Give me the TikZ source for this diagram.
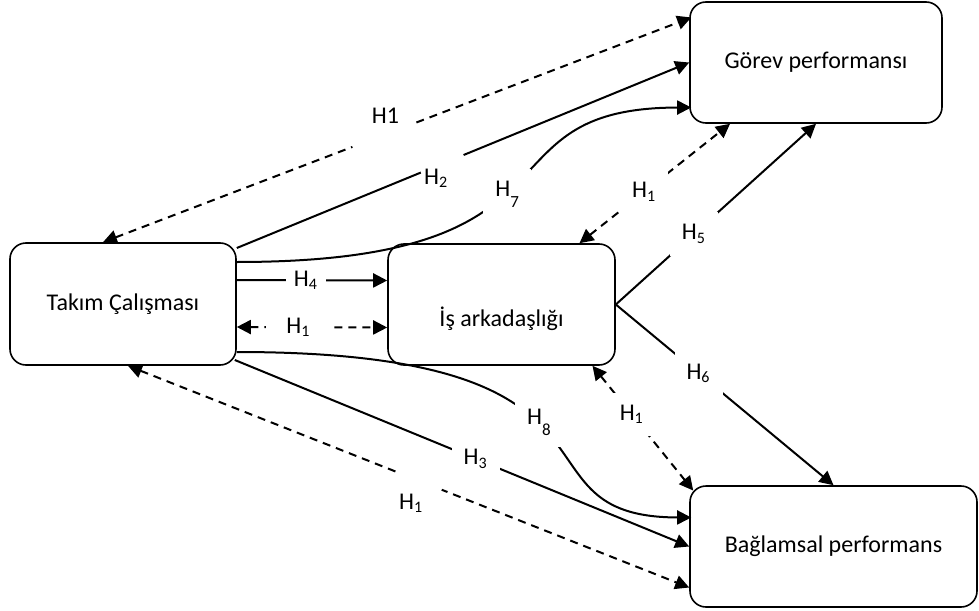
\documentclass[tikz,border=0pt]{standalone}
\usepackage{fontspec}
\setmainfont{Carlito}
\usepackage{tikz}
\usetikzlibrary{arrows.meta,calc}

\begin{document}
\begin{tikzpicture}[x=0.5pt, y=-0.5pt, font=\fontsize{12}{14}\selectfont,
  >={Triangle[length=7pt,width=7pt]}, line width=1pt,
  box/.style={draw, line width=0.8pt, rounded corners=8pt, inner sep=0pt},
  brk/.style={dash pattern=on 4pt off 3pt},
  hyp/.style={fill=white, inner sep=6pt},
  cut/.style={fill=white, inner sep=0pt, minimum height=4pt, sloped},
  tag/.style={inner sep=1pt}]
\useasboundingbox (0,0) rectangle (979,610);

% variables
\node[box, minimum width=113pt, minimum height=61pt] (takim) at (123,304) {Takım Çalışması};
\node[box, minimum width=113.5pt, minimum height=60.5pt,
      label={[yshift=-7pt]center:İş arkadaşlığı}] (is) at (501.5,304.5) {};
\node[box, minimum width=126pt, minimum height=60.5pt] (gorev) at (816,62.5) {Görev performansı};
\node[box, minimum width=143.5pt, minimum height=60.5pt] (baglam) at (833.5,546.5) {Bağlamsal performans};

% direct paths
\draw[->] ($(takim.east)+(0,-56)$) -- (gorev.west)
  node[cut, pos=.454, minimum width=23pt] {} node[tag, pos=.454, anchor=north, xshift=-3pt, yshift=-1pt] {H\textsubscript{2}};
\draw[->] ($(takim.east)+(-2,56)$) -- (baglam.west)
  node[hyp, pos=.53] {H\textsubscript{3}};
\draw[->] ($(takim.east)+(0,-24)$) -- ($(is.west)+(0,-24)$)
  node[hyp, inner xsep=4pt, pos=.46] {H\textsubscript{4}};
\draw[->] (is.east) -- (gorev.south)
  node[hyp, pos=.39] {H\textsubscript{5}};
\draw[->] (is.east) -- (baglam.north)
  node[hyp, pos=.38] {H\textsubscript{6}};

% mediated paths
\draw[->] ($(takim.east)+(0,-42)$) .. controls (600,262) and (470,108) .. ($(gorev.west)+(2,45)$)
  node[hyp, pos=.46] {H\raisebox{-0.9ex}{\fontsize{8.5}{8.5}\selectfont 7}};
\draw[->] ($(takim.east)+(0,48)$) .. controls (660,352) and (500,517) .. ($(baglam.west)+(2,-29)$)
  node[hyp, pos=.45] {H\raisebox{-0.9ex}{\fontsize{8.5}{8.5}\selectfont 8}};

% H1 links
\draw[brk,<->] ($(takim.north)+(-20,0)$) -- ($(gorev.west)+(2,-45)$)
  node[cut, pos=.475, minimum width=32pt] {} node[tag, pos=.475, anchor=south, xshift=1.5pt, yshift=4.5pt] {H1};
\draw[brk,<->] ($(takim.east)+(0,23)$) -- ($(is.west)+(0,23)$)
  node[hyp, inner xsep=10pt, pos=.41] {H\textsubscript{1}};
\draw[brk,<->] ($(is.north)+(78,0)$) -- ($(gorev.south)+(-86,0)$)
  node[hyp, pos=.43] {H\textsubscript{1}};
\draw[brk,<->] ($(is.south)+(91,0)$) -- ($(baglam.west)+(4,-56)$)
  node[hyp, pos=.39] {H\textsubscript{1}};
\draw[brk,<->] ($(takim.south)+(5,0)$) -- ($(baglam.west)+(0,41)$)
  node[cut, pos=.519, minimum width=24pt] {} node[tag, pos=.519, anchor=north, xshift=-4pt, yshift=-5pt] {H\textsubscript{1}};
\end{tikzpicture}
\end{document}
